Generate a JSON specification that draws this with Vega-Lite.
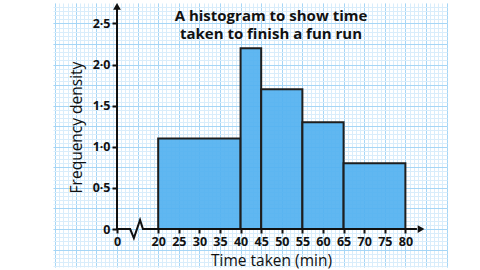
{
  "$schema": "https://vega.github.io/schema/vega-lite/v6.json",
  "width": 394,
  "height": 264,
  "autosize": "none",
  "padding": {"left": 53, "top": 3, "right": 33, "bottom": 3},
  "background": "white",
  "config": {"view": {"stroke": null}, "font": "Open Sans"},
  "title": {
    "text": ["A histogram to show time", "taken to finish a fun run"],
    "fontSize": 15,
    "fontWeight": "bold",
    "color": "#111111",
    "anchor": "middle",
    "dx": 21,
    "offset": -39,
    "lineHeight": 18.5
  },
  "datasets": {
    "bars": [
      {"start": 20, "end": 40, "fd": 1.1},
      {"start": 40, "end": 45, "fd": 2.2},
      {"start": 45, "end": 55, "fd": 1.7},
      {"start": 55, "end": 65, "fd": 1.3},
      {"start": 65, "end": 80, "fd": 0.8}
    ],
    "xline": [
      {"x": 10, "y": 0},
      {"x": 13.2, "y": 0},
      {"x": 14.1, "y": -0.11},
      {"x": 15.6, "y": 0.11},
      {"x": 16.3, "y": 0},
      {"x": 82.8, "y": 0}
    ],
    "yline": [{"x": 10, "y": 0, "y2": 2.69}],
    "arrows": [
      {"x": 10, "y": 2.707, "shape": "triangle-up"},
      {"x": 83.8, "y": 0, "shape": "triangle-right"}
    ]
  },
  "layer": [
    {
      "data": {"name": "bars"},
      "mark": {"type": "rect", "opacity": 0},
      "encoding": {
        "x": {"field": "start", "type": "quantitative", "scale": {"domain": [-5.53, 90.1], "nice": false, "zero": false},
          "axis": {"orient": "bottom", "title": null, "labels": false, "ticks": false, "domain": false, "grid": true, "tickCount": 96, "gridColor": "#d9edfb", "gridWidth": 1, "gridOpacity": 1, "zindex": 0}},
        "x2": {"field": "end"},
        "y": {"field": "fd", "type": "quantitative", "scale": {"domain": [-0.462, 2.749], "nice": false, "zero": false},
          "axis": {"orient": "left", "title": null, "labels": false, "ticks": false, "domain": false, "grid": true, "tickCount": 64, "gridColor": "#d9edfb", "gridWidth": 1, "gridOpacity": 1, "zindex": 0}}
      }
    },
    {
      "data": {"name": "bars"},
      "mark": {"type": "rect", "opacity": 0},
      "encoding": {
        "x": {"field": "start", "type": "quantitative",
          "axis": {"orient": "bottom", "title": null, "labels": false, "ticks": false, "domain": false, "grid": true, "tickCount": 19, "gridColor": "#a6d6f6", "gridWidth": 1, "gridOpacity": 1, "zindex": 0}},
        "x2": {"field": "end"},
        "y": {"field": "fd", "type": "quantitative",
          "axis": {"orient": "left", "title": null, "labels": false, "ticks": false, "domain": false, "grid": true, "values": [-0.25, 0, 0.25, 0.5, 0.75, 1, 1.25, 1.5, 1.75, 2, 2.25, 2.5, 2.75], "gridColor": "#a6d6f6", "gridWidth": 1, "gridOpacity": 1, "zindex": 0}}
      }
    },
    {
      "data": {"name": "bars"},
      "mark": {"type": "rect", "fill": "#52b1f0", "fillOpacity": 0.92, "stroke": "#1e1e1e", "strokeWidth": 2},
      "encoding": {
        "x": {"field": "start", "type": "quantitative",
          "axis": {"orient": "bottom", "offset": -38, "title": "Time taken (min)", "values": [10, 20, 25, 30, 35, 40, 45, 50, 55, 60, 65, 70, 75, 80],
            "labelExpr": "datum.value == 10 ? '0' : datum.label", "grid": false, "domain": false,
            "ticks": true, "tickSize": 4, "tickWidth": 2, "tickColor": "#111111",
            "labelFont": "Open Sans", "labelFontSize": 12.5, "labelFontWeight": "bold", "labelColor": "#111111", "labelPadding": 2,
            "titleFont": "Open Sans", "titleFontSize": 15.5, "titleFontWeight": "normal", "titleColor": "#111111",
            "titleX": 218, "titleY": 36.5, "titleBaseline": "alphabetic", "zindex": 1}},
        "x2": {"field": "end"},
        "y": {"field": "fd", "type": "quantitative",
          "axis": {"orient": "left", "offset": -64, "title": "Frequency density", "values": [0, 0.5, 1, 1.5, 2, 2.5],
            "labelExpr": "datum.value == 0 ? '0' : replace(format(datum.value, '.1f'), '.', '·')", "grid": false, "domain": false,
            "ticks": true, "tickSize": 5, "tickWidth": 2, "tickColor": "#111111",
            "labelFont": "Open Sans", "labelFontSize": 12.5, "labelFontWeight": "bold", "labelColor": "#111111", "labelPadding": 2,
            "titleFont": "Open Sans", "titleFontSize": 15.5, "titleFontWeight": "normal", "titleColor": "#111111",
            "titleX": -41, "titleY": 124, "titleAngle": -90, "titleBaseline": "middle", "titleAlign": "center", "zindex": 1}},
        "y2": {"datum": 0}
      }
    },
    {
      "data": {"name": "xline"},
      "mark": {"type": "line", "color": "#111111", "strokeWidth": 2},
      "encoding": {
        "x": {"field": "x", "type": "quantitative", "axis": null},
        "y": {"field": "y", "type": "quantitative", "axis": null},
        "order": {"field": "x"}
      }
    },
    {
      "data": {"name": "yline"},
      "mark": {"type": "rule", "color": "#111111", "strokeWidth": 2},
      "encoding": {
        "x": {"field": "x", "type": "quantitative", "axis": null},
        "y": {"field": "y", "type": "quantitative", "axis": null},
        "y2": {"field": "y2"}
      }
    },
    {
      "data": {"name": "arrows"},
      "mark": {"type": "point", "filled": true, "color": "#111111", "opacity": 1, "size": 60},
      "encoding": {
        "x": {"field": "x", "type": "quantitative", "axis": null},
        "y": {"field": "y", "type": "quantitative", "axis": null},
        "shape": {"field": "shape", "type": "nominal", "scale": null, "legend": null}
      }
    }
  ],
  "resolve": {"axis": {"x": "independent", "y": "independent"}}
}
